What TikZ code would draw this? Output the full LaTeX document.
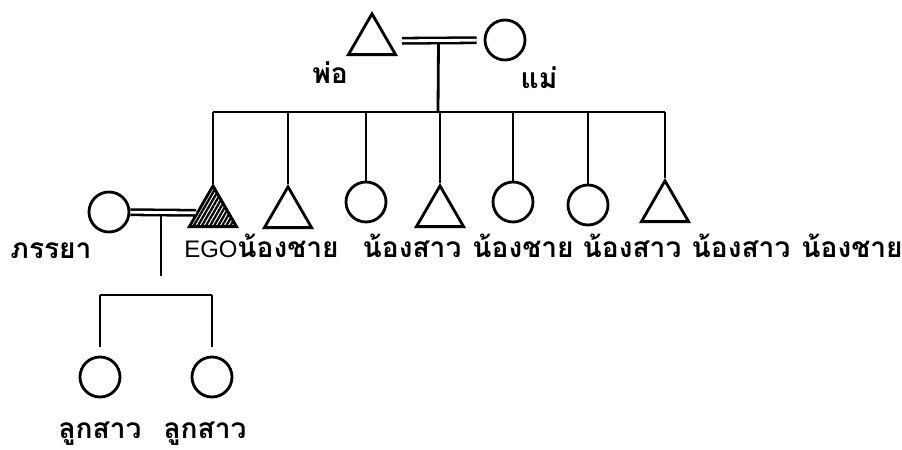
\documentclass[tikz,border=0pt]{standalone}
\usepackage{fontspec}
\setsansfont{Liberation Sans}
\newfontfamily\thaifont[Script=Thai]{Loma}
\usetikzlibrary{shapes.geometric, patterns.meta, calc}

\begin{document}
\begin{tikzpicture}[x=0.025cm, y=-0.025cm,
    male/.style={draw, regular polygon, regular polygon sides=3, inner sep=0pt, minimum size=1.36cm, line width=2pt},
    female/.style={draw, circle, inner sep=0pt, minimum size=1.0cm, line width=2pt},
    egomale/.style={male, pattern={Lines[angle=60, distance=2.5pt, line width=1.6pt]}},
    marriage/.style={double, double distance=2pt, line width=1.8pt},
    descent/.style={line width=2pt},
    kin/.style={font=\thaifont\bfseries\fontsize{20}{24}\selectfont, inner sep=0pt, anchor=base}]
  \useasboundingbox (0,0) rectangle (902,449);

  % Parents
  \node[male] (father) at (372,41) {};
  \node[female] (mother) at (505,40) {};
  \node[kin] (fatherlbl) at (330,83) {พ่อ};
  \node[kin] (motherlbl) at (539,88) {แม่};
  \coordinate (pm) at ($(father.center)!0.5!(mother.center)$);
  \coordinate (sibbar) at (438,112);

  % Siblings
  \foreach \n/\x/\y/\s in {ego/213/213/egomale, s2/288/214/male, s3/366/202/female,
      s4/440/213/male, s5/513/202/female, s6/588/205/female, s7/665/208/male} {
    \node[\s] (\n) at (\x,\y) {};
  }
  \node[font=\sffamily\fontsize{17}{20}\selectfont, inner sep=0pt, anchor=base] (egolbl) at (211,257) {EGO};
  \foreach \n/\x/\t in {s2/288/น้องชาย, s3/412/น้องสาว, s4/523/น้องชาย,
      s5/632/น้องสาว, s6/741/น้องสาว, s7/852/น้องชาย} {
    \node[kin] (\n lbl) at (\x,257) {\t};
  }

  % Wife and daughters
  \node[female] (wife) at (109,212) {};
  \node[kin] (wifelbl) at (51,258) {ภรรยา};
  \coordinate (wm) at ($(wife.center)!0.5!(ego.center)$);
  \coordinate (wmend) at ($(wm)+(0,63)$);
  \coordinate (kidbar) at (156,295);
  \node[female] (d1) at (100,377) {};
  \node[female] (d2) at (212,377) {};
  \node[kin] (d1lbl) at (100,438) {ลูกสาว};
  \node[kin] (d2lbl) at (205,438) {ลูกสาว};

  % Lines of descent
  \draw[descent] (pm) -- (sibbar);
  \draw[descent] (sibbar -| ego) -- (sibbar -| s7);
  \foreach \n in {ego,s2,s3,s4,s5,s6,s7}
    \draw[descent] (sibbar -| \n) -- (\n.north);
  \draw[descent] (wm) -- (wmend);
  \draw[descent] (kidbar -| d1) -- (kidbar -| d2);
  \foreach \n in {d1,d2}
    \draw[descent, shorten >=6pt] (kidbar -| \n) -- (\n.north);

  % Marriages
  \draw[marriage, shorten <=9pt, shorten >=5pt] (father) -- (mother);
  \draw[marriage] (wife) -- (ego);
\end{tikzpicture}
\end{document}
